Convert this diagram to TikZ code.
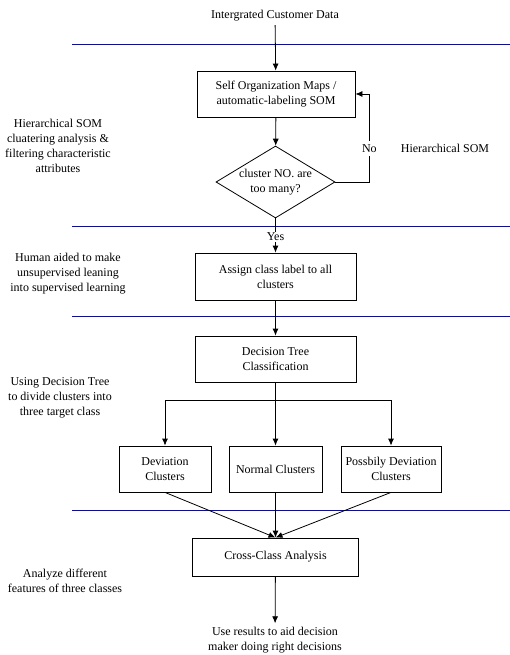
\documentclass[tikz,border=0pt]{standalone}
\usepackage{fontspec}
\setmainfont{Liberation Serif}
\usetikzlibrary{shapes.geometric,arrows.meta}

\begin{document}
\begin{tikzpicture}[
x=1pt,y=-1pt,
line width=0.8pt,
>={Latex[length=7pt,width=6pt]},
every node/.style={font=\fontsize{12}{15}\selectfont},
mybox/.style={
  draw,
  align=center,
  minimum height=46pt
  },
decision/.style={
  draw,
  diamond,
  aspect=1.65,
  align=center,
  inner sep=0pt,
  minimum width=119pt,
  minimum height=72pt
  },
note/.style={align=center},
sep/.style={draw=blue,line width=0.9pt}
]
\useasboundingbox (0,0) rectangle (510,655);
\node (data) at (275,16) {Intergrated Customer Data};
\node[mybox,minimum width=158pt] (som) at (276,94) {Self Organization Maps /\\automatic-labeling SOM};
\node[decision] (chk) at (275.5,182) {cluster NO. are\\too many?};
\node[mybox,minimum width=161pt,minimum height=47pt] (assign) at (275.5,276.5) {Assign class label to all\\clusters};
\node[mybox,minimum width=161pt] (dt) at (275.5,359) {Decision Tree\\Classification};
\node[mybox,minimum width=92pt] (dev) at (165,469) {Deviation\\Clusters};
\node[mybox,minimum width=93pt] (nor) at (275.5,469) {Normal Clusters};
\node[mybox,minimum width=100pt] (pdev) at (391,469) {Possbily Deviation\\Clusters};
\node[mybox,minimum width=166pt,minimum height=38pt] (cca) at (275.5,557) {Cross-Class Analysis};
\node[note] (res) at (275,640) {Use results to aid decision\\maker doing right decisions};
\coordinate (fork) at (275.5,400);
% notes left and right
\node[note] (n1) at (58,145.5) {Hierarchical SOM\\cluatering analysis \&\\filtering characteristic\\attributes};
\node[note] (n2) at (68,274) {Human aided to make\\unsupervised leaning\\into supervised learning};
\node[note] (n3) at (60,398) {Using Decision Tree\\to divide clusters into\\three target class};
\node[note] (n4) at (65,580.5) {Analyze different\\features of three classes};
\node[note] (n5) at (445,148) {Hierarchical SOM};
% separators
\foreach \Y in {44,226,316,510}
  \draw[sep] (72,\Y) -- (510,\Y);
\path[->]
(data) edge (som)
(som) edge (chk)
(chk) edge node[fill=white,inner sep=1pt,pos=0.54]{Yes} (assign)
(assign) edge (dt)
(dt) edge (nor)
(dev.south) edge (cca.north)
(nor) edge (cca)
(pdev.south) edge (cca.north)
(cca) edge (res);
\draw[->] (fork) -| (dev.north);
\draw[->] (fork) -| (pdev.north);
\draw[->] (chk.east) -- ++(34,0) |- node[pos=0.19,fill=white]{No} (som.east);
\end{tikzpicture}
\end{document}
